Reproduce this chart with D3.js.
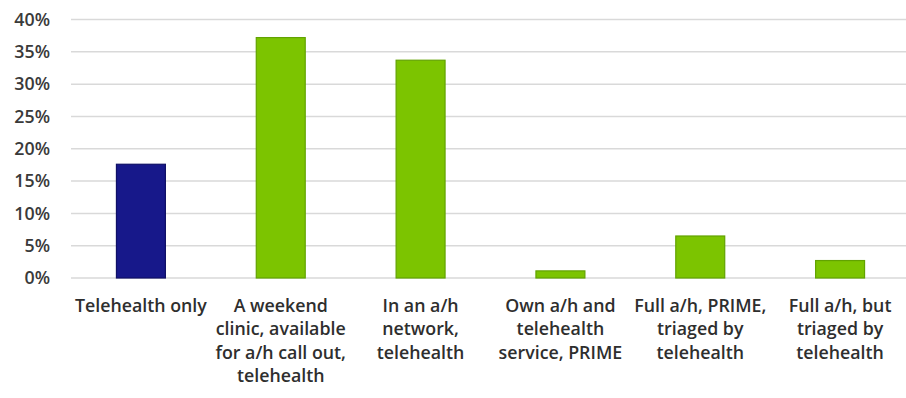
<!DOCTYPE html>
<html>
<head>
<meta charset="utf-8">
<script src="https://cdn.jsdelivr.net/npm/d3@7"></script>
<style>
  html, body { margin: 0; padding: 0; background: #fff; }
  svg { display: block; }
</style>
</head>
<body>
<svg id="chart" width="906" height="398"></svg>
<script>
// After-hours arrangement categories, each label split into its display lines
const categories = [
  ["Telehealth only"],
  ["A weekend", "clinic, available", "for a/h call out,", "telehealth"],
  ["In an a/h", "network,", "telehealth"],
  ["Own a/h and", "telehealth", "service, PRIME"],
  ["Full a/h, PRIME,", "triaged by", "telehealth"],
  ["Full a/h, but", "triaged by", "telehealth"]
];
// Share of respondents (%)
const values = [17.6, 37.2, 33.7, 1.1, 6.5, 2.7];
const yTicks = [0, 5, 10, 15, 20, 25, 30, 35, 40];

const svg = d3.select("#chart");
const W = 906;
const plotLeft = 71, plotRight = 910, plotTop = 19.5, plotBottom = 278;

const keys = categories.map((c, i) => i);
const x = d3.scaleBand().domain(keys).range([plotLeft, plotRight])
  .paddingInner(0.65).paddingOuter(0.325);
const y = d3.scaleLinear().domain([0, 40]).range([plotBottom, plotTop]);

const font = "'Open Sans', 'Liberation Sans', sans-serif";
const fontSize = 17.8;

// horizontal gridlines
svg.append("g")
  .selectAll("line")
  .data(yTicks)
  .join("line")
  .attr("x1", plotLeft).attr("x2", W)
  .attr("y1", d => y(d)).attr("y2", d => y(d))
  .attr("stroke", "#d9d9d9")
  .attr("stroke-width", 1.5);

// y axis labels
const yAxis = d3.axisLeft(y).tickValues(yTicks).tickFormat(d => d + "%").tickSize(0).tickPadding(0);
const ya = svg.append("g").attr("transform", "translate(50,0)").call(yAxis);
ya.select(".domain").remove();
ya.selectAll("text")
  .attr("font-family", font)
  .attr("font-size", fontSize)
  .attr("font-weight", 600)
  .attr("fill", "#3a3a3a");

// bars
svg.append("g")
  .selectAll("rect")
  .data(values)
  .join("rect")
  .attr("x", (d, i) => x(i))
  .attr("y", d => y(d))
  .attr("width", x.bandwidth())
  .attr("height", d => y(0) - y(d))
  .attr("fill", (d, i) => i === 0 ? "#17188a" : "#7cc400")
  .attr("stroke", (d, i) => i === 0 ? "#0f1066" : "#62a300")
  .attr("stroke-width", 1.2);

// category labels
const lab = svg.append("g")
  .selectAll("text")
  .data(categories)
  .join("text")
  .attr("text-anchor", "middle")
  .attr("font-family", font)
  .attr("font-size", fontSize)
  .attr("font-weight", 600)
  .attr("fill", "#2e2e2e");
lab.selectAll("tspan")
  .data((lines, i) => lines.map(t => ({ t, i })))
  .join("tspan")
  .attr("x", d => x(d.i) + x.bandwidth() / 2)
  .attr("y", (d, j) => 312 + j * 23.3)
  .text(d => d.t);
</script>
</body>
</html>
